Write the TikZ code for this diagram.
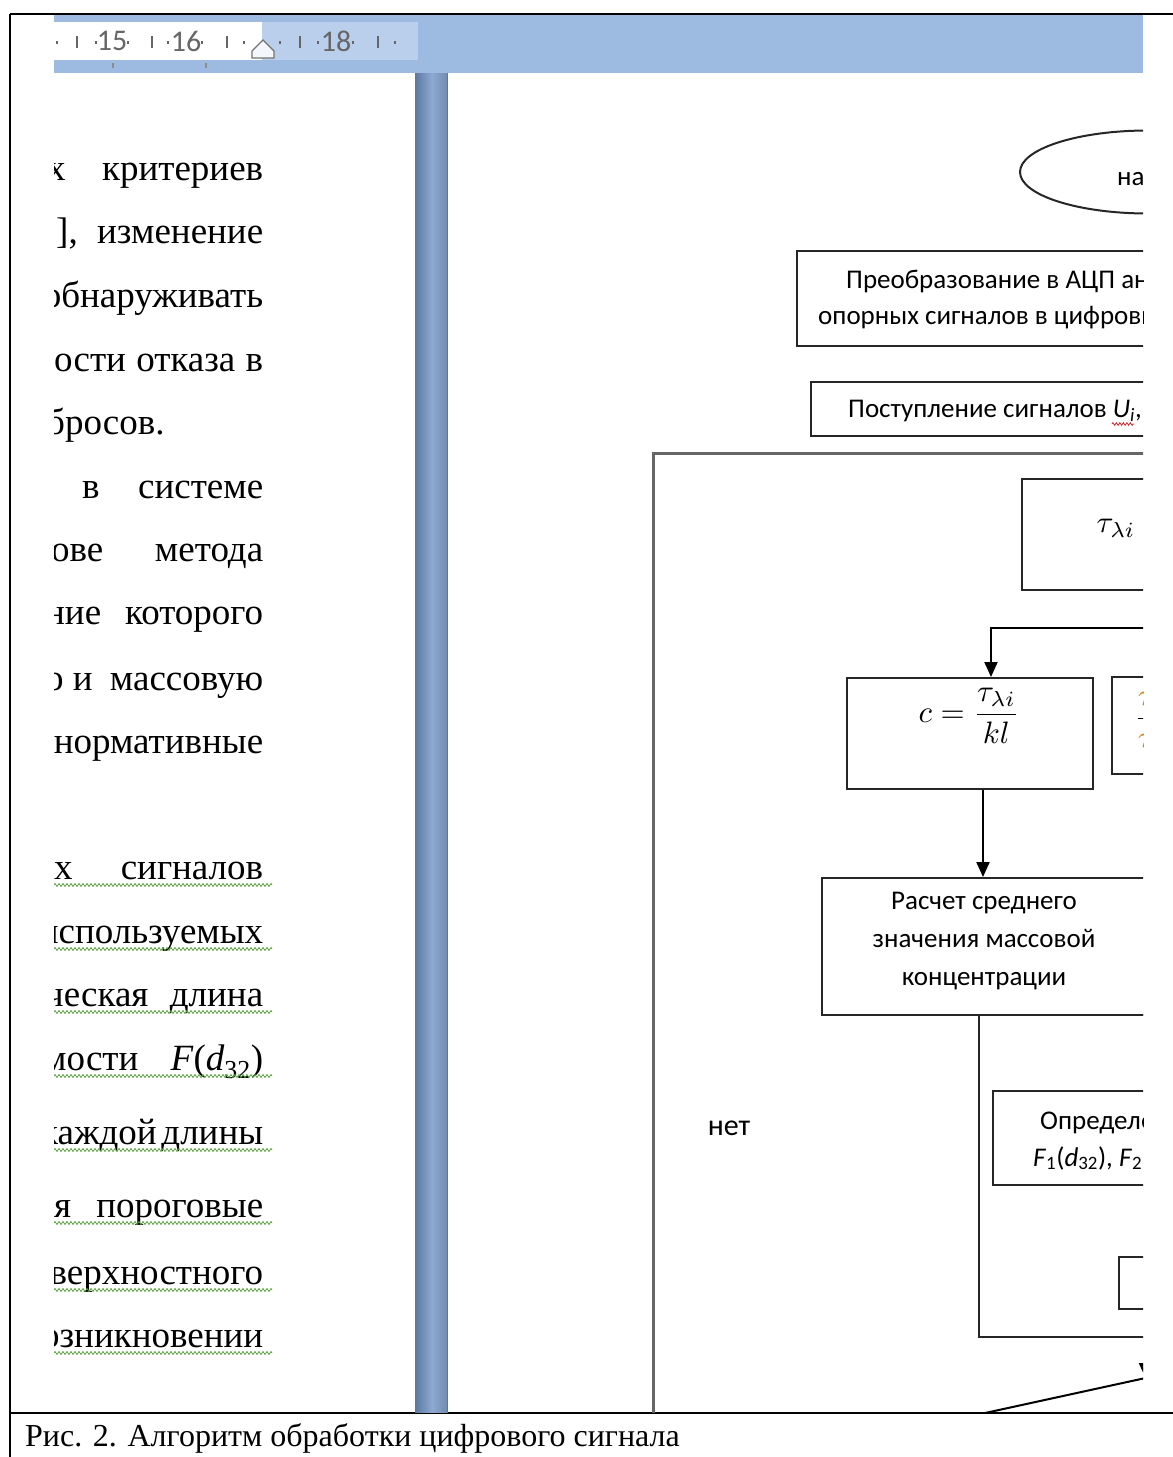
\documentclass[tikz,border=0pt]{standalone}
\usepackage{amsmath}
\usepackage{xcolor}
\usepackage{fontspec}
\setmainfont{Liberation Serif}
\newfontfamily\cali{Carlito}
\usetikzlibrary{
	positioning,   %定位
	calc,          %计算
	arrows.meta,   %箭头
	shapes.geometric, %椭圆
	decorations.pathmorphing %波浪线
}
\definecolor{rulerblue}{HTML}{9DBBE1}
\definecolor{rulerlight}{HTML}{B9CFEC}
\definecolor{bardark}{HTML}{5A78A0}
\definecolor{barmid}{HTML}{8EAAD2}
\definecolor{spellgreen}{HTML}{5AA040}
\definecolor{spellred}{HTML}{D02020}
\definecolor{eqorange}{HTML}{C8860F}
\tikzset{
	every picture/.style={
		>={Triangle[length=15pt,width=13pt]},
		x=1pt,y=-1pt
	},
	blk/.style={draw=black!85,line width=2pt,rectangle,inner sep=0pt,anchor=north west},
	flow/.style={font=\cali\fontsize{27}{38}\selectfont,inner sep=0pt},
	pagetxt/.style={font=\fontsize{37}{40}\selectfont,inner sep=0pt,anchor=base west},
	rulertxt/.style={font=\cali\fontsize{30}{30}\selectfont,text=black!60,inner sep=0pt},
	wavy/.style={draw=spellgreen,line width=0.8pt,decorate,
		decoration={zigzag,amplitude=1.5pt,segment length=4pt}},
	mth/.style={inner sep=0pt}
}
%左页的一行文字: 名称, 左端x, 基线y, 内容
\newcommand{\pline}[4]{\node[pagetxt] (#1) at (#2,#3) {\hbox to \dimexpr263pt-#2pt\relax{#4}};}
%放大的公式
\newcommand{\bigmath}[1]{\scalebox{3.1}{$#1$}}

\begin{document}
\begin{tikzpicture}
\useasboundingbox (0,0) rectangle (1173,1457);
%表格边框
\draw[line width=2pt] (10,14) -- (1173,14);
\draw[line width=2pt] (10,14) -- (10,1457);
\draw[line width=2pt] (10,1413) -- (1173,1413);
%图注
\node[anchor=base west,inner sep=0pt,font=\fontsize{32}{36}\selectfont] (cap) at (25,1446)
	{Рис. 2. Алгоритм обработки цифрового сигнала};

\begin{scope}
\clip (54,15) rectangle (1143,1412);
%标尺
\fill[rulerblue] (54,15) rectangle (1143,73);
\fill[white] (54,22) rectangle (262,60);
\fill[rulerlight] (262,22) rectangle (418,60);
\foreach \x in {57,96,128,168,202,244,280,318,353,395}
	\fill[black!60] (\x-1.2,41) rectangle (\x+1.2,43.5);
\foreach \x in {77,152,227,300,378}
	\draw[black!60,line width=1.6pt] (\x,36) -- (\x,48);
\node[rulertxt] (r15) at (112,41) {15};
\node[rulertxt] (r16) at (186,41) {16};
\node[rulertxt] (r18) at (336,41) {18};
\draw[black!55,fill=white!85!rulerlight,line width=1.2pt]
	(252,58) -- (252,51) -- (263,40) -- (274,51) -- (274,58) -- cycle;
\foreach \x in {113,206}
	\draw[black!45,line width=1.2pt] (\x,63) -- (\x,68);
%页间空白
\shade[left color=bardark,right color=barmid] (415,73) rectangle (432,1413);
\shade[left color=barmid,right color=bardark!85] (432,73) rectangle (447,1413);
\draw[black!55,line width=1pt] (447.5,73) -- (447.5,1413);

%左页正文
\pline{l1}{47}{180}{х\hfill критериев}
\pline{l2}{56}{243}{],\hfill изменение}
\pline{l3}{40}{307}{\hfill обнаруживать}
\pline{l4}{54}{371}{ости\hfill отказа\hfill в}
\pline{l5}{46}{434}{бросов.\hfill}
\pline{l6}{54}{498}{\hspace{28pt}в\hfill системе}
\pline{l7}{51}{561}{ове\hfill метода}
\pline{l8}{45}{624}{ние\hfill которого}
\pline{l9}{45}{690}{о и\hfill массовую}
\pline{l10}{40}{753}{\hfill нормативные}
\pline{l12}{54}{879}{х\hfill сигналов}
\pline{l13}{30}{943}{\hfill используемых}
\pline{l14}{45}{1006}{ческая\hfill длина}
\pline{l15}{43}{1070}{мости\hfill \textit{F}(\textit{d}\textsubscript{32})}
\pline{l16}{40}{1144}{каждой\hfill длины}
\pline{l17}{54}{1217}{я\hfill пороговые}
\pline{l18}{40}{1284}{\hfill верхностного}
\pline{l19}{30}{1347}{\hfill озникновении}
%绿色波浪线
\foreach \b in {879,943,1006,1070,1144,1217,1284,1347}
	\draw[wavy] (54,\b+6) -- (272,\b+6);

%流程图
\node[draw=black!85,line width=2pt,ellipse,minimum width=256pt,minimum height=83pt,inner sep=0pt]
	(begin) at (1148,172) {};
\node[flow,anchor=base west] (begintxt) at (1117,185) {на};

\node[blk,minimum width=420pt,minimum height=95pt] (adc) at (796,250) {};
\node[flow,anchor=base west] (adc1) at (846,288) {Преобразование в АЦП ан};
\node[flow,anchor=base west] (adc2) at (818,324) {опорных сигналов в цифровы};

\node[blk,minimum width=400pt,minimum height=54pt] (inp) at (810,381) {};
\node[flow,anchor=base west] (inptxt) at (848,417) {Поступление сигналов \textit{U\textsubscript{i}},};
\draw[draw=spellred,line width=0.8pt,decorate,decoration={zigzag,amplitude=1.3pt,segment length=3.5pt}]
	(1112,424) -- (1134,424);

%循环框
\node[draw=black!60,line width=2.5pt,anchor=north west,minimum width=700pt,minimum height=1100pt,inner sep=0pt]
	(loop) at (652,452) {};

\node[blk,minimum width=250pt,minimum height=111pt] (tau) at (1021,478) {};
\node[mth] (tautxt) at (1116,528) {\bigmath{\tau_{\lambda i}}};

\coordinate (tj) at (1200,628);
\node[blk,minimum width=246pt,minimum height=111pt] (cbox) at (846,677) {};
\node[mth] (ceq) at (969,716) {\bigmath{c=\dfrac{\tau_{\lambda i}}{kl}}};
\draw[line width=2pt,->] (tj) -| ([xshift=21pt]cbox.north);

\node[blk,minimum width=100pt,minimum height=97pt] (ratio) at (1111,676) {};
\node[mth,anchor=west] (ratiotxt) at (1134,720)
	{\bigmath{\dfrac{\textcolor{eqorange}{\tau}}{\textcolor{eqorange}{\tau}}}};

\node[blk,minimum width=400pt,minimum height=137pt] (calc) at (821,877) {};
\node[flow,align=center] (calctxt) at (984,941) {Расчет среднего\\значения массовой\\концентрации};
\draw[line width=2pt,->] ([xshift=13pt]cbox.south) -- ([xshift=13pt]cbox.south |- calc.north);

\node[blk,minimum width=300pt,minimum height=322pt] (grp) at (978,1014) {};

\node[flow] (no) at (729,1128) {\fontsize{30}{34}\selectfont нет};

\node[blk,fill=white,minimum width=300pt,minimum height=94pt] (det) at (992,1090) {};
\node[flow,anchor=base west] (det1) at (1040,1129) {Определе};
\node[flow,anchor=base west] (det2) at (1033,1166)
	{\textit{F}\textsubscript{1}(\textit{d}\textsubscript{32}), \textit{F}\textsubscript{2}};

\node[blk,minimum width=100pt,minimum height=52pt] (small) at (1118,1256) {};

%判断框与箭头
\coordinate (dleft) at (985,1413);
\coordinate (dtop) at (1145.5,1378);
\coordinate (din) at (1145.5,1336);
\draw[line width=2pt] (dleft) -- (dtop);
\draw[line width=2pt,->] (din) -- (dtop);
\end{scope}
\end{tikzpicture}
\end{document}
